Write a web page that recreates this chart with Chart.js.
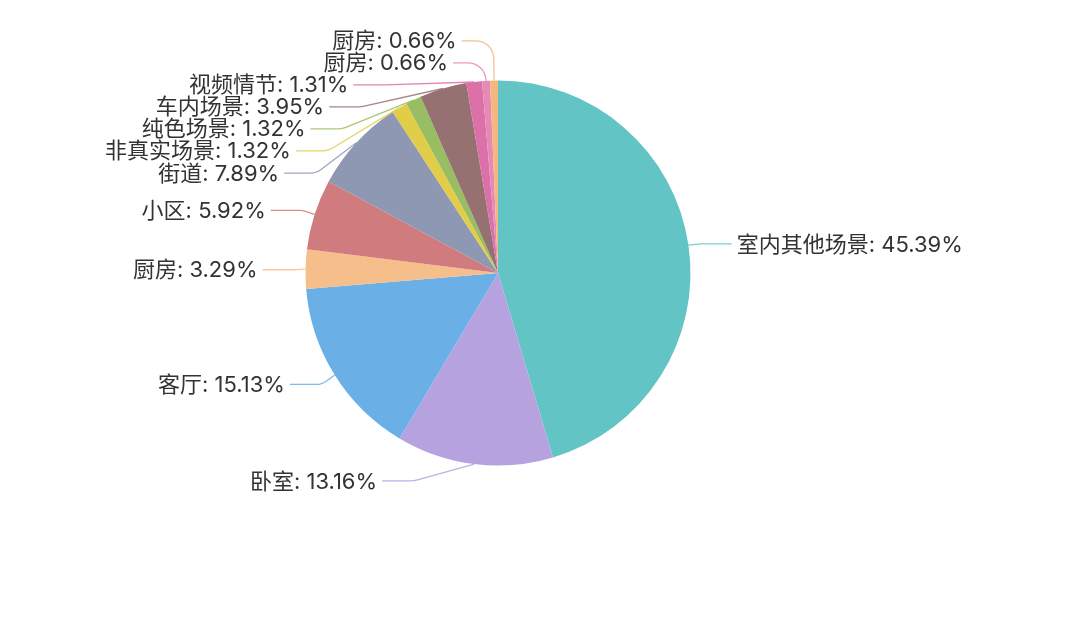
<!DOCTYPE html>
<html><head><meta charset="utf-8">
<script src="https://cdn.jsdelivr.net/npm/chart.js@4/dist/chart.umd.min.js"></script>
<style>html,body{margin:0;padding:0;background:#fff;overflow:hidden}#c{display:block}</style>
</head><body>
<canvas id="c" width="1080" height="621"></canvas>
<script>
const categories = ['室内其他场景','卧室','客厅','厨房','小区','街道','非真实场景','纯色场景','车内场景','视频情节','厨房','厨房'];
const values = [45.39,13.16,15.13,3.29,5.92,7.89,1.32,1.32,3.95,1.31,0.66,0.66];
const colors = ['#63c4c6','#b5a2df','#6ab0e6','#f6be8a','#d07b7d','#8e98b2','#e2cd48','#99bd62','#967171','#dc70a8','#e48ab5','#f5b680'];

const LEN1 = 16, LEN2 = 32, LABEL_H = 22, GAP = 5;
const FONT = '22px Inter, "Noto Sans CJK SC", "Noto Sans", sans-serif';

function adjustSingleSide(list, cx, cy, r, dir, viewTop, viewHeight) {
  list.sort((a, b) => a.y - b.y);
  function shiftDown(start, end, delta) {
    for (let j = start; j < end; j++) {
      if (list[j].y + delta > viewTop + viewHeight) break;
      list[j].y += delta;
      if (j > start && j + 1 < end && list[j + 1].y > list[j].y + list[j].height) {
        shiftUp(j, delta / 2);
        return;
      }
    }
    shiftUp(end - 1, delta / 2);
  }
  function shiftUp(end, delta) {
    for (let j = end; j >= 0; j--) {
      if (list[j].y - delta < viewTop) break;
      list[j].y -= delta;
      if (j > 0 && list[j].y > list[j - 1].y + list[j - 1].height) break;
    }
  }
  function changeX(sub, isDown) {
    let last = isDown ? Number.MAX_VALUE : 0;
    for (const it of sub) {
      const dY = Math.abs(it.y - cy);
      const R = r + it.len + it.len2;
      let dX = dY < r + it.len ? Math.sqrt(R * R - dY * dY) : Math.abs(it.x - cx);
      if (isDown && dX >= last) dX = last - 10;
      if (!isDown && dX <= last) dX = last + 10;
      it.x = cx + dX * dir;
      last = dX;
    }
  }
  let lastY = 0;
  const len = list.length;
  for (let i = 0; i < len; i++) {
    const delta = list[i].y - lastY;
    if (delta < 0) shiftDown(i, len, -delta);
    lastY = list[i].y + list[i].height;
  }
  if (viewHeight - lastY < 0) shiftUp(len - 1, lastY - viewHeight);
  const up = [], down = [];
  for (const it of list) (it.y >= cy ? down : up).push(it);
  changeX(up, false);
  changeX(down, true);
}

const labelPlugin = {
  id: 'outerLabels',
  afterDatasetsDraw(chart) {
    const ctx = chart.ctx;
    const meta = chart.getDatasetMeta(0);
    const items = [];
    let cx = 0, cy = 0, r = 0;
    meta.data.forEach((arc, i) => {
      const p = arc.getProps(['x','y','startAngle','endAngle','outerRadius'], true);
      cx = p.x; cy = p.y; r = p.outerRadius;
      const mid = (p.startAngle + p.endAngle) / 2;
      const dx = Math.cos(mid), dy = Math.sin(mid);
      const x1 = cx + r * dx, y1 = cy + r * dy;
      const x2 = x1 + dx * LEN1, y2 = y1 + dy * LEN1;
      const x3 = x2 + (dx < 0 ? -1 : 1) * LEN2;
      items.push({
        i, x: x3 + (dx < 0 ? -GAP : GAP), y: y2 + 1, height: LABEL_H,
        len: LEN1, len2: LEN2, p0: [x1, y1],
        text: categories[i] + ': ' + values[i].toFixed(2) + '%', color: colors[i]
      });
    });
    const left = items.filter(it => it.x < cx), right = items.filter(it => it.x >= cx);
    adjustSingleSide(right, cx, cy, r, 1, 0, chart.height);
    adjustSingleSide(left, cx, cy, r, -1, 0, chart.height);
    ctx.save();
    ctx.font = FONT;
    ctx.textBaseline = 'middle';
    for (const it of items) {
      const isLeft = it.x < cx;
      const p2x = isLeft ? it.x + GAP : it.x - GAP;
      const p1x = p2x + (isLeft ? it.len2 : -it.len2);
      ctx.beginPath();
      ctx.globalAlpha = 0.85;
      ctx.strokeStyle = it.color;
      ctx.lineWidth = 1.3;
      ctx.moveTo(it.p0[0], it.p0[1]);
      ctx.arcTo(p1x, it.y, p2x, it.y, 18);
      ctx.lineTo(p2x, it.y);
      ctx.stroke();
      ctx.globalAlpha = 1;
      ctx.fillStyle = '#333333';
      ctx.textAlign = isLeft ? 'right' : 'left';
      ctx.fillText(it.text, it.x, it.y + 1);
    }
    ctx.restore();
  }
};

new Chart(document.getElementById('c'), {
  type: 'pie',
  data: {
    labels: categories,
    datasets: [{ data: values, backgroundColor: colors, borderWidth: 0 }]
  },
  options: {
    responsive: false,
    animation: false,
    devicePixelRatio: 1,
    layout: { padding: { left: 305.5, right: 389.5, top: 80.5, bottom: 155.5 } },
    plugins: { legend: { display: false }, tooltip: { enabled: false } }
  },
  plugins: [labelPlugin]
});
</script>
</body></html>
